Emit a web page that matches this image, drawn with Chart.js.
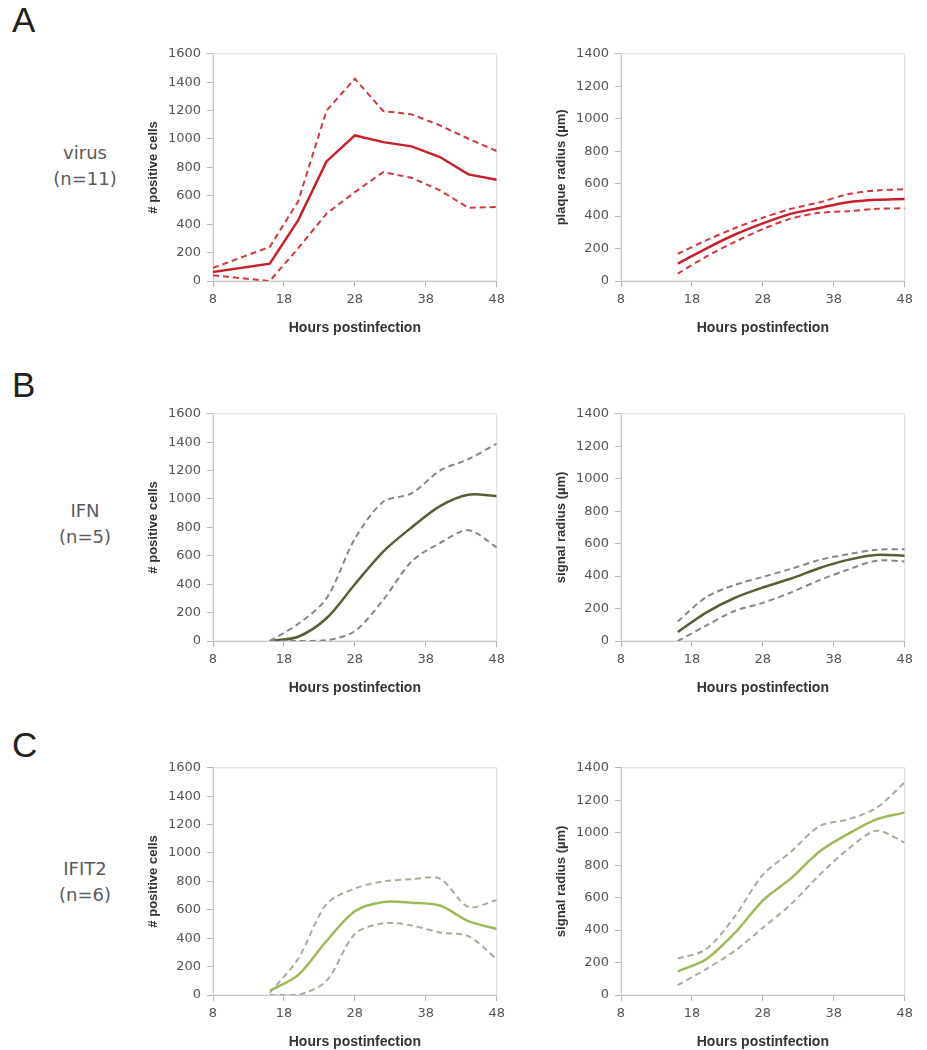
<!DOCTYPE html>
<html>
<head>
<title>Infection spread panels</title>
<script src="https://cdn.jsdelivr.net/npm/chart.js"></script>
<style>
  body {
    margin: 0;
    background: #fff;
    width: 927px;
    height: 1050px;
    position: relative;
    overflow: hidden;
    font-family: "DejaVu Sans", sans-serif;
  }
  .letter {
    position: absolute;
    left: 12px;
    font: 35px "Liberation Sans", Arial, sans-serif;
    color: #222;
    line-height: 40px;
  }
  .rowlabel {
    position: absolute;
    left: 20px;
    width: 130px;
    text-align: center;
    font-size: 18px;
    line-height: 26px;
    color: #5a5a5a;
  }
  .panel {
    position: absolute;
    width: 370px;
    height: 301px;
  }
</style>
</head>
<body>
<div class="letter" style="top:0px">A</div>
<div class="letter" style="top:365px">B</div>
<div class="letter" style="top:725px">C</div>

<div class="rowlabel" style="top:140px">virus<br>(n=11)</div>
<div class="rowlabel" style="top:498px">IFN<br>(n=5)</div>
<div class="rowlabel" style="top:856px">IFIT2<br>(n=6)</div>

<div class="panel" style="left:140px;top:40px"><canvas id="a1"></canvas></div>
<div class="panel" style="left:548px;top:40px"><canvas id="a2"></canvas></div>
<div class="panel" style="left:140px;top:400px"><canvas id="b1"></canvas></div>
<div class="panel" style="left:548px;top:400px"><canvas id="b2"></canvas></div>
<div class="panel" style="left:140px;top:754px"><canvas id="c1"></canvas></div>
<div class="panel" style="left:548px;top:754px"><canvas id="c2"></canvas></div>

<script>
  // hours postinfection
  const hoursVirus = [8, 16, 20, 24, 28, 32, 36, 40, 44, 48];
  const hours = [16, 20, 24, 28, 32, 36, 40, 44, 48];
  const xTicks = [8, 18, 28, 38, 48];

  // A: virus
  const virusCellsMean  = [63, 122, 427, 842, 1025, 978, 948, 873, 751, 713];
  const virusCellsUpper = [92, 240, 560, 1200, 1424, 1197, 1173, 1096, 1002, 915];
  const virusCellsLower = [40, 0, 230, 474, 626, 767, 727, 638, 516, 521];

  const virusRadiusMean  = [107, 200, 285, 355, 415, 450, 485, 500, 505];
  const virusRadiusUpper = [168, 250, 325, 390, 445, 485, 535, 558, 565];
  const virusRadiusLower = [45, 150, 240, 320, 385, 420, 430, 445, 448];

  // B: IFN
  const ifnCellsMean  = [0, 30, 160, 400, 630, 800, 950, 1030, 1020];
  const ifnCellsUpper = [0, 120, 300, 720, 980, 1040, 1200, 1280, 1390];
  const ifnCellsLower = [0, 0, 5, 70, 290, 560, 690, 780, 660];

  const ifnRadiusMean  = [55, 175, 265, 330, 385, 450, 500, 530, 525];
  const ifnRadiusUpper = [120, 270, 345, 395, 445, 500, 535, 562, 565];
  const ifnRadiusLower = [0, 95, 185, 235, 300, 375, 440, 495, 490];

  // C: IFIT2
  const ifit2CellsMean  = [30, 140, 380, 590, 655, 650, 630, 520, 465];
  const ifit2CellsUpper = [15, 255, 640, 750, 800, 815, 820, 620, 670];
  const ifit2CellsLower = [0, 0, 100, 430, 505, 490, 440, 415, 252];

  const ifit2RadiusMean  = [145, 220, 380, 582, 720, 884, 992, 1082, 1124];
  const ifit2RadiusUpper = [224, 282, 482, 741, 884, 1041, 1082, 1153, 1310];
  const ifit2RadiusLower = [61, 159, 271, 414, 561, 741, 898, 1012, 939];

  const frame = {
    id: "frame",
    beforeDatasetsDraw(chart) {
      const a = chart.chartArea;
      const ctx = chart.ctx;
      ctx.save();
      ctx.strokeStyle = "#dadada";
      ctx.lineWidth = 1;
      ctx.strokeRect(a.left, a.top, a.right - a.left, a.bottom - a.top);
      ctx.restore();
    }
  };

  function pts(xs, ys) {
    return xs.map((x, i) => ({ x: x, y: ys[i] }));
  }

  function makeChart(id, xs, mean, upper, lower, yMax, yTitle, meanColor, dashColor, tension) {
    const line = (data, color, width, dash) => ({
      data: pts(xs, data),
      borderColor: color,
      borderWidth: width,
      borderDash: dash,
      pointRadius: 0,
      tension: tension,
      fill: false
    });
    new Chart(document.getElementById(id), {
      type: "line",
      data: {
        datasets: [
          line(upper, dashColor, 2, [6, 4]),
          line(lower, dashColor, 2, [6, 4]),
          line(mean, meanColor, 2.5, [])
        ]
      },
      options: {
        animation: false,
        responsive: true,
        maintainAspectRatio: false,
        layout: { padding: { top: 13, right: 13, left: 0, bottom: 0 } },
        plugins: { legend: { display: false }, tooltip: { enabled: false } },
        scales: {
          x: {
            type: "linear",
            min: 8,
            max: 48,
            afterBuildTicks: (s) => { s.ticks = xTicks.map(v => ({ value: v })); },
            afterFit: (s) => { s.height = 60; },
            grid: { drawOnChartArea: false, tickLength: 6, color: "#b5b5b5" },
            border: { color: "#b5b5b5" },
            ticks: {
              color: "#555", padding: 5,
              font: { family: "DejaVu Sans", size: 13 },
              callback: (v) => String(v)
            },
            title: {
              display: true,
              text: "Hours postinfection",
              color: "#333",
              padding: { top: 0 },
              font: { family: "Liberation Sans", weight: "bold", size: 14 }
            }
          },
          y: {
            min: 0,
            max: yMax,
            afterFit: (s) => { s.width = 73; },
            grid: { drawOnChartArea: false, tickLength: 6, color: "#b5b5b5" },
            border: { color: "#b5b5b5" },
            ticks: {
              stepSize: 200, color: "#555", padding: 6,
              font: { family: "DejaVu Sans", size: 13 },
              callback: (v) => String(v)
            },
            title: {
              display: true,
              text: yTitle,
              color: "#333",
              padding: { top: 6, bottom: 0 },
              font: { family: "Liberation Sans", weight: "bold", size: 13 }
            }
          }
        }
      },
      plugins: [frame]
    });
  }

  const red = "#c8202b", redDash = "#d4363c";
  const olive = "#5b5e35", grayDash = "#868686";
  const green = "#9bbb59", greenDash = "#a9ad98";

  makeChart("a1", hoursVirus, virusCellsMean, virusCellsUpper, virusCellsLower, 1600, "# positive cells", red, redDash, 0);
  makeChart("a2", hours, virusRadiusMean, virusRadiusUpper, virusRadiusLower, 1400, "plaque radius (\u00b5m)", red, redDash, 0.3);
  makeChart("b1", hours, ifnCellsMean, ifnCellsUpper, ifnCellsLower, 1600, "# positive cells", olive, grayDash, 0.3);
  makeChart("b2", hours, ifnRadiusMean, ifnRadiusUpper, ifnRadiusLower, 1400, "signal radius (\u00b5m)", olive, grayDash, 0.3);
  makeChart("c1", hours, ifit2CellsMean, ifit2CellsUpper, ifit2CellsLower, 1600, "# positive cells", green, greenDash, 0.3);
  makeChart("c2", hours, ifit2RadiusMean, ifit2RadiusUpper, ifit2RadiusLower, 1400, "signal radius (\u00b5m)", green, greenDash, 0.3);
</script>
</body>
</html>
